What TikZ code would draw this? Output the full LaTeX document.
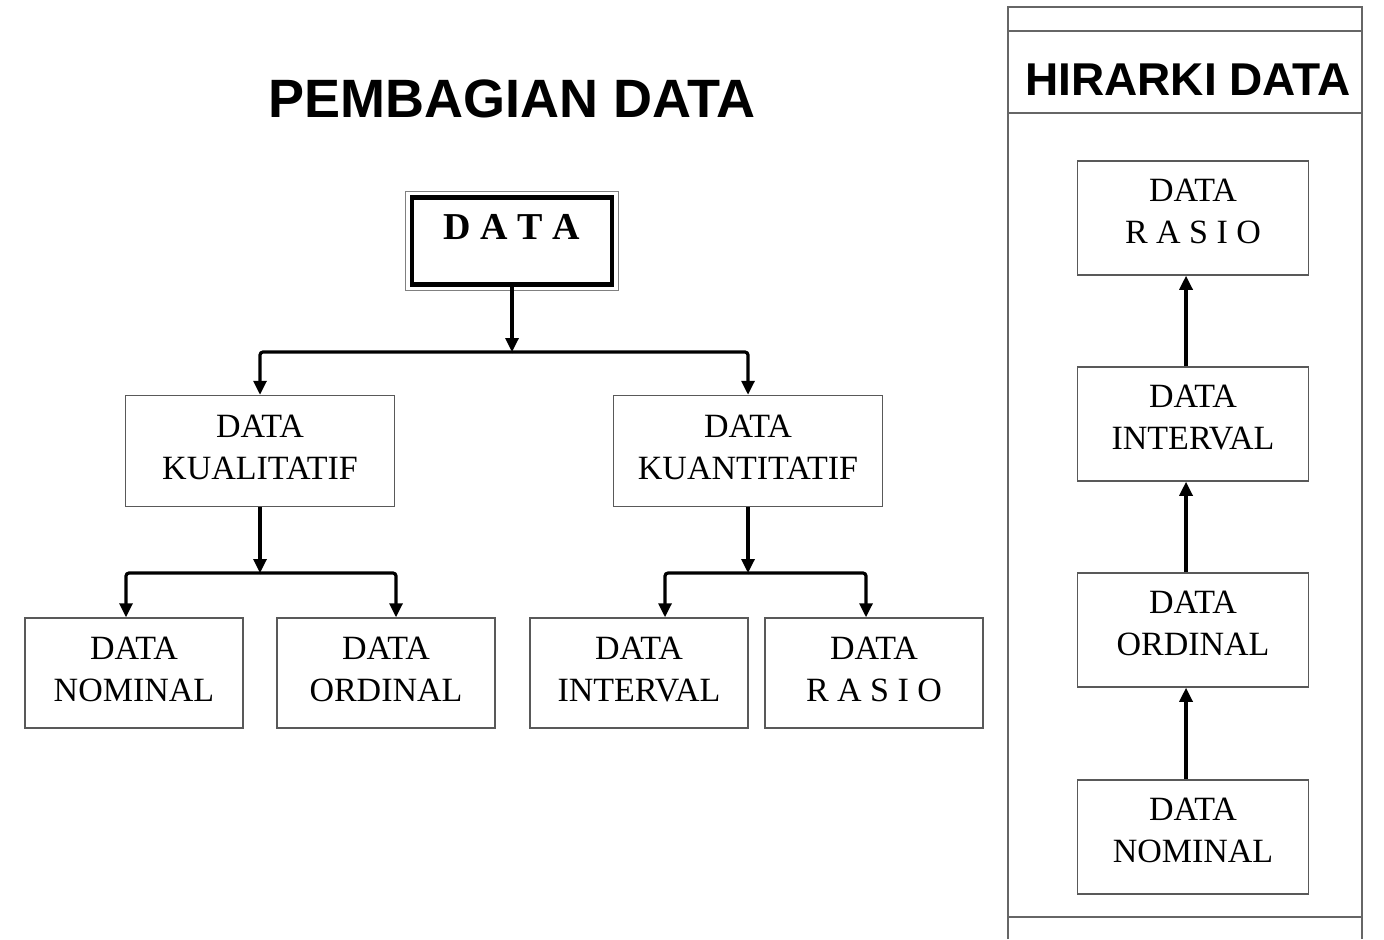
\documentclass[tikz,border=0pt]{standalone}
\usepackage{fontspec}
\setmainfont{Liberation Serif}
\setsansfont{Liberation Sans}
\usepackage{tikz}
\usetikzlibrary{positioning, arrows.meta}
\tikzstyle{kotak} = [rectangle, draw=black!65, line width=0.75pt, align=center, font=\fontsize{17}{21}\selectfont]
\tikzstyle{induk} = [kotak, minimum width=134.5pt, minimum height=55.5pt, text depth=4pt]
\tikzstyle{anak} = [kotak, minimum width=109pt, minimum height=55pt, text depth=4pt]
\tikzstyle{hirarki} = [kotak, minimum width=115.5pt, minimum height=57pt, text depth=7pt]
\tikzstyle{arrow} = [line width=1.6pt, ->, >={Triangle[length=7pt,width=6.5pt]}, rounded corners=1.5pt]
\tikzstyle{panel} = [draw=black!60, line width=0.75pt]

\begin{document}
\begin{tikzpicture}[x=0.5pt, y=-0.5pt]
        \useasboundingbox (0,0) rectangle (1384,939);

        % judul kiri
        \node[anchor=base, font=\sffamily\bfseries\fontsize{27}{30}\selectfont] (judul) at (512,117) {PEMBAGIAN DATA};

        % pohon pembagian data
        \node[rectangle, draw=black, line width=2.2pt, minimum width=100pt, minimum height=43.5pt, text depth=14pt,
              font=\bfseries\fontsize{19}{22}\selectfont] (data) at (512,241) {D A T A};
        \draw[black!50, line width=0.6pt] ([shift={(-2pt,2pt)}]data.north west) rectangle ([shift={(2pt,-2pt)}]data.south east);

        \node[induk] (kual) at (260,451) {DATA\\KUALITATIF};
        \node[induk] (kuan) at (748,451) {DATA\\KUANTITATIF};

        \node[anak] (nominal)  at (134,673) {DATA\\NOMINAL};
        \node[anak] (ordinal)  at (386,673) {DATA\\ORDINAL};
        \node[anak] (interval) at (639,673) {DATA\\INTERVAL};
        \node[anak] (rasio)    at (874,673) {DATA\\R A S I O};

        \coordinate (j1) at (512,352);
        \coordinate (j2) at (260,573);
        \coordinate (j3) at (748,573);

        \draw[arrow] (data)  -- (j1);
        \draw[arrow] (j1) -| (kual);
        \draw[arrow] (j1) -| (kuan);
        \draw[arrow] (kual)  -- (j2);
        \draw[arrow] (j2) -| ([xshift=-4pt]nominal.north);
        \draw[arrow] (j2) -| ([xshift=5pt]ordinal.north);
        \draw[arrow] (kuan)  -- (j3);
        \draw[arrow] (j3) -| ([xshift=13pt]interval.north);
        \draw[arrow] (j3) -| ([xshift=-4pt]rasio.north);

        % panel hirarki
        \draw[panel] (1008,939) -- (1008,7) -- (1362,7) -- (1362,939);
        \draw[panel] (1008,31) -- (1362,31);
        \draw[panel] (1008,113) -- (1362,113);
        \draw[panel] (1008,917) -- (1362,917);
        \node[anchor=base, font=\sffamily\bfseries\fontsize{23}{26}\selectfont] (judul2) at (1188,95) {HIRARKI DATA};

        \node[hirarki] (h4) at (1193,218) {DATA\\R A S I O};
        \node[hirarki] (h3) at (1193,424) {DATA\\INTERVAL};
        \node[hirarki] (h2) at (1193,630) {DATA\\ORDINAL};
        \node[hirarki] (h1) at (1193,837) {DATA\\NOMINAL};

        \draw[arrow] ([xshift=-3.5pt]h1.north) -- ([xshift=-3.5pt]h2.south);
        \draw[arrow] ([xshift=-3.5pt]h2.north) -- ([xshift=-3.5pt]h3.south);
        \draw[arrow] ([xshift=-3.5pt]h3.north) -- ([xshift=-3.5pt]h4.south);
    \end{tikzpicture}
\end{document}
